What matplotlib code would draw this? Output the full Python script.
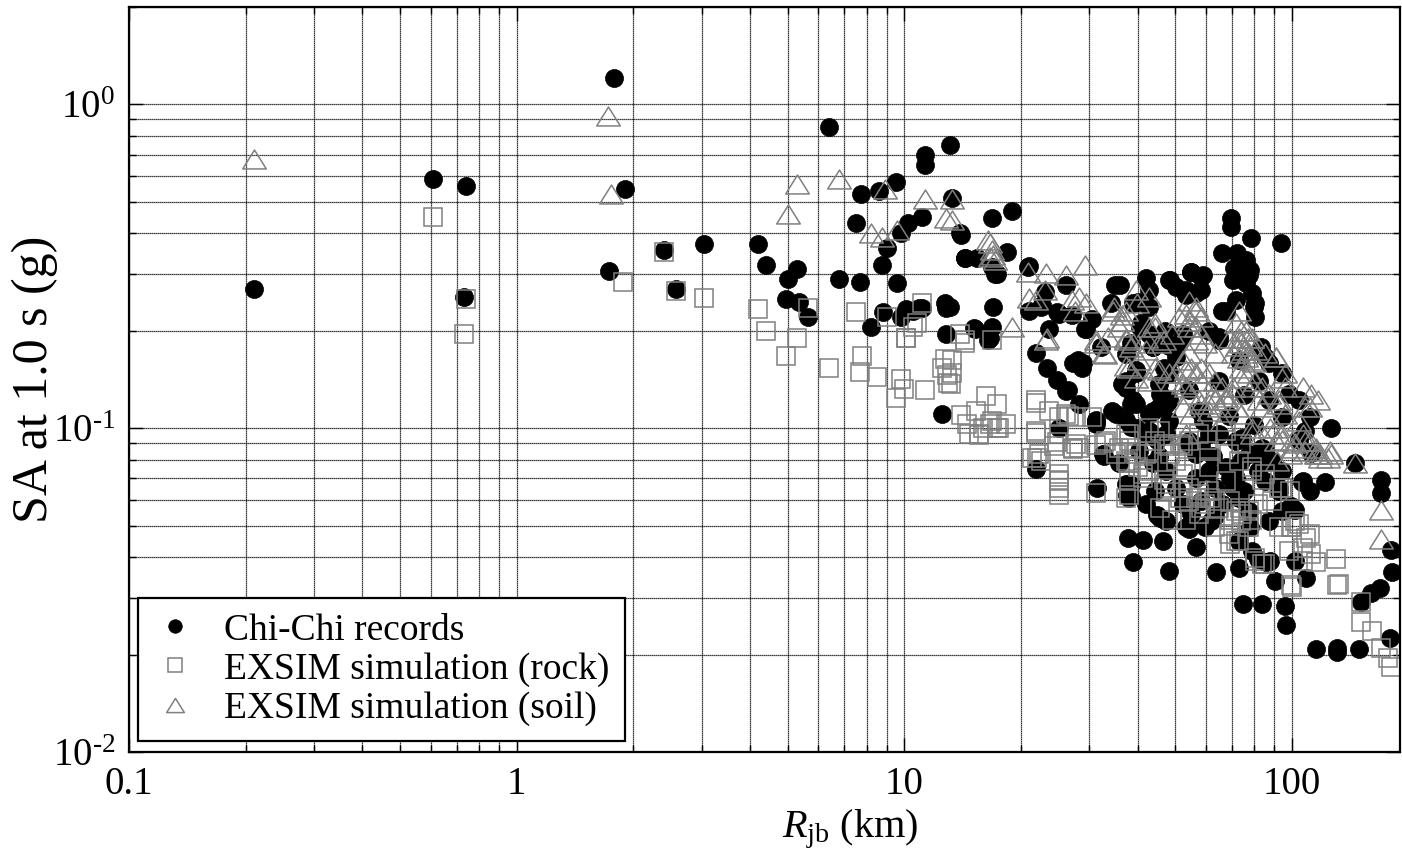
import matplotlib

matplotlib.use("Agg")
import matplotlib.pyplot as plt
from matplotlib.path import Path
from matplotlib.ticker import FixedLocator, FixedFormatter, LogLocator, NullFormatter

# Chi-Chi records (Rjb km, SA g)
chichi_r = [
    0.21, 0.61, 0.74, 0.73, 1.78, 1.9, 1.73, 2.4, 2.58, 3.05, 4.2, 4.4, 5.3, 5.0, 4.95, 5.35, 5.65,
    6.4, 7.75, 8.6, 9.5, 11.3, 11.3, 13.1, 13.3, 16.8, 7.5, 10.2, 11.1, 9.8, 14.0, 9.0, 8.75, 14.3,
    6.8, 7.7, 9.6, 8.8, 8.2, 10.1, 10.9, 9.8, 12.7, 12.8, 12.8, 15.2, 16.9, 16.6, 12.5,
    19.0, 18.4, 17.3, 21.0, 35.0, 23.0, 26.2, 25.0, 27.0, 30.5, 29.4, 21.0, 22.5, 23.6, 34.2, 39.0,
    10.5, 11.1, 16.4, 16.8, 17.1, 15.4, 13.9, 13.1, 15.1,
    25.0, 28.3, 31.2, 34.3, 37.3, 38.5, 37.3, 39.6, 28.0, 28.8, 27.2, 21.8, 23.3, 24.7, 26.2, 32.2, 37.3,
    69.7, 69.7, 78.3, 93.7, 66.0, 72.2, 76.1, 71.0, 77.6, 75.2, 42.0, 48.5, 50.3, 55.0, 59.0, 58.3,
    53.3, 36.0, 71.7, 67.5, 80.4, 80.4, 40.0, 42.9, 40.6, 38.5, 37.3, 43.7, 47.4, 64.8, 83.2, 85.0,
    39.6, 38.5, 42.0, 43.7, 45.7, 48.2, 47.4,
    126, 145, 170, 170,
    180, 181, 169, 160, 151, 179, 115, 131, 131, 149, 109, 102, 95.9, 96.8, 83.6, 74.7, 90.2, 72.8,
    63.6, 48.2, 38.8, 37.7, 41.3, 46.4, 56.4, 54.2, 106, 122, 111, 102, 45.7, 44.9, 38.5, 37.3, 54.2,
    56.5, 43.4, 44.9, 69.2, 70.5, 78.7, 81.6, 72.8, 53.3, 63.3, 59.5, 80.4, 81.6, 88.8, 104, 112,
    74.3, 65.0, 108, 85.8, 99.5, 92.8,
    21.8, 31.4, 31.2, 32.8, 35.7, 38.5, 37.5,
    14.3, 16.8, 20.8, 22.6, 24.8, 29.3, 26.4, 28.9, 42.8, 48.2, 53.3, 55.0, 58.3, 56.4, 74.0, 78.0,
    70.3, 76.1, 79.0, 80.0, 66.0, 36.4, 39.6, 38.8, 40.8, 42.8, 43.7, 46.7, 50.3, 51.2, 52.3, 61.1,
    64.9, 87.3, 94.4, 98.3, 104, 94.4, 111, 42.8, 45.4, 35.2, 31.2, 32.5, 39.6, 42.8, 47.4, 54.3,
    58.3, 61.1, 71.7, 77.5, 85.0, 107,
    38.0, 38.0, 43.7, 47.4, 47.4, 88.0, 78.0, 87.3, 94.4, 52.3, 55.0, 61.8, 58.3, 66.0, 73.0, 77.5,
    50.3, 56.4, 61.1, 67.5, 74.0, 83.6, 87.3, 94.4, 92.6, 71.7, 63.3, 44.4, 42.0,
    48.2, 57.6, 68.8, 80.0, 75.0, 85.0, 62.5, 45.4, 40.3, 48.2, 54.3, 59.0, 45.4, 64.9, 75.0, 82.0,
    73.0, 87.0, 47.0, 48.2,
]
chichi_sa = [
    0.27, 0.59, 0.56, 0.255, 1.21, 0.55, 0.305, 0.355, 0.269, 0.37, 0.37, 0.32, 0.31, 0.29, 0.25, 0.245, 0.22,
    0.85, 0.53, 0.54, 0.575, 0.70, 0.65, 0.75, 0.515, 0.445, 0.43, 0.43, 0.45, 0.40, 0.395, 0.36, 0.32, 0.335,
    0.29, 0.283, 0.28, 0.228, 0.206, 0.233, 0.235, 0.22, 0.243, 0.235, 0.196, 0.203, 0.237, 0.19, 0.111,
    0.47, 0.35, 0.30, 0.317, 0.278, 0.263, 0.277, 0.226, 0.224, 0.218, 0.203, 0.231, 0.237, 0.203, 0.243, 0.243,
    0.231, 0.235, 0.187, 0.315, 0.30, 0.336, 0.40, 0.237, 0.204,
    0.10, 0.119, 0.106, 0.113, 0.106, 0.119, 0.133, 0.148, 0.162, 0.154, 0.159, 0.171, 0.154, 0.141, 0.13, 0.178, 0.14,
    0.446, 0.419, 0.387, 0.373, 0.348, 0.348, 0.331, 0.313, 0.297, 0.287, 0.291, 0.287, 0.273, 0.304, 0.297, 0.267,
    0.258, 0.277, 0.249, 0.231, 0.243, 0.22, 0.245, 0.237, 0.205, 0.183, 0.17, 0.178, 0.183, 0.191, 0.178, 0.166,
    0.119, 0.101, 0.097, 0.113, 0.128, 0.148, 0.119,
    0.10, 0.078, 0.069, 0.063,
    0.042, 0.036, 0.032, 0.031, 0.029, 0.0225, 0.0208, 0.021, 0.0203, 0.0208, 0.0345, 0.039, 0.0283, 0.0247, 0.0286, 0.0286, 0.0337, 0.037,
    0.036, 0.0363, 0.0385, 0.0458, 0.0452, 0.0449, 0.043, 0.049, 0.068, 0.068, 0.064, 0.056, 0.053, 0.054, 0.0617, 0.0672, 0.0895,
    0.083, 0.097, 0.092, 0.07, 0.0655, 0.0418, 0.0395, 0.045, 0.0494, 0.0537, 0.0494, 0.083, 0.074, 0.079, 0.092, 0.084,
    0.0935, 0.096, 0.098, 0.0385, 0.0576, 0.064,
    0.075, 0.0655, 0.103, 0.082, 0.078, 0.067, 0.062,
    0.336, 0.205, 0.315, 0.24, 0.228, 0.203, 0.131, 0.159, 0.267, 0.287, 0.267, 0.304, 0.293, 0.261, 0.326, 0.308,
    0.287, 0.28, 0.261, 0.237, 0.231, 0.137, 0.151, 0.122, 0.211, 0.196, 0.178, 0.154, 0.166, 0.183, 0.196, 0.20,
    0.187, 0.159, 0.148, 0.128, 0.122, 0.108, 0.108, 0.111, 0.116, 0.111, 0.1055, 0.083, 0.10, 0.098, 0.096, 0.0915,
    0.088, 0.096, 0.0915, 0.083, 0.085, 0.0687,
    0.0675, 0.061, 0.078, 0.0738, 0.0517, 0.039, 0.0494, 0.0517, 0.0557, 0.0584, 0.0545, 0.0517, 0.0596, 0.0584, 0.061, 0.0555,
    0.0655, 0.0703, 0.0738, 0.076, 0.0793, 0.087, 0.0793, 0.0738, 0.0655, 0.07, 0.0655, 0.064, 0.0584,
    0.1055, 0.113, 0.109, 0.102, 0.064, 0.0687, 0.082, 0.082, 0.085, 0.122, 0.131, 0.1055, 0.137, 0.14, 0.127, 0.14,
    0.162, 0.122, 0.20, 0.18,
]

# EXSIM simulation, rock sites
rock_r = [
    0.61, 0.74, 0.73, 2.4, 1.88, 2.58, 3.05, 5.65, 4.2, 4.4, 5.3, 4.95, 6.4,
    7.5, 9.0, 11.1, 10.8, 10.1, 14.3, 12.7, 12.5, 12.9, 13.0, 7.8, 7.7, 8.5, 9.8, 10.0, 11.3, 9.5,
    16.2, 15.3, 14.0, 15.6, 16.6, 10.1, 10.5,
    17.3, 18.3, 21.8, 23.6, 26.6, 21.8, 25.0, 27.2, 24.7, 22.3, 31.2, 35.7,
    14.3, 16.8, 13.3, 13.3, 13.2, 13.9,
    16.0, 16.8, 15.6, 21.8, 26.2, 27.8, 25.1, 27.8, 21.4, 25.1, 25.1, 30.5, 33.2, 35.2, 38.0, 39.6,
    42.8, 46.7, 52.3, 57.6, 61.1, 67.5, 73.0, 85.0, 92.6, 41.3, 47.4, 52.3,
    21.8, 24.3, 22.5, 25.0, 25.0, 27.2, 28.3, 31.2, 32.8, 37.3, 14.5, 17.3,
    17.6, 14.7, 22.0, 25.1, 38.0, 37.3, 38.0, 38.0, 41.3, 42.8, 44.4, 48.2, 47.4, 50.3, 52.3, 54.3,
    56.4, 58.3, 61.1, 63.3, 67.5, 71.7, 74.0, 77.5, 68.8, 73.0, 80.4, 83.6, 94.4, 100, 102, 111,
    98.3, 107, 115, 130, 132, 100, 54.3, 61.1, 68.8, 74.0, 79.0,
    37.3, 38.5, 42.0, 37.7, 40.1, 42.9, 46.7, 48.5, 51.5, 54.2, 57.5, 59.5, 61.6, 65.0, 69.2, 73.4,
    77.6, 81.6, 45.7, 48.9, 53.3, 57.5, 63.3, 69.2, 74.3, 78.7, 69.2, 71.7, 80.4, 85.0, 92.8, 99.6,
    109, 112, 99.6, 94.4, 151, 151, 161, 170, 180, 177, 78.7, 60.5, 51.5, 45.7, 48.5, 53.3,
    83.6, 88.8, 104, 98.6, 107, 131,
]
rock_sa = [
    0.45, 0.25, 0.195, 0.35, 0.283, 0.265, 0.252, 0.235, 0.233, 0.20, 0.19, 0.167, 0.154,
    0.228, 0.22, 0.243, 0.211, 0.19, 0.184, 0.164, 0.154, 0.146, 0.138, 0.167, 0.149, 0.144, 0.142, 0.132, 0.131, 0.124,
    0.126, 0.113, 0.11, 0.095, 0.103, 0.19, 0.205,
    0.119, 0.103, 0.12, 0.113, 0.109, 0.098, 0.108, 0.087, 0.091, 0.083, 0.089, 0.087,
    0.187, 0.187, 0.162, 0.148, 0.137, 0.196,
    0.10, 0.1055, 0.096, 0.122, 0.111, 0.108, 0.096, 0.0895, 0.081, 0.072, 0.0655, 0.108, 0.0915, 0.083, 0.096, 0.083,
    0.10, 0.0895, 0.088, 0.096, 0.076, 0.098, 0.0793, 0.072, 0.0655, 0.072, 0.0675, 0.0655,
    0.097, 0.088, 0.079, 0.069, 0.062, 0.086, 0.087, 0.063, 0.09, 0.061, 0.103, 0.10,
    0.10, 0.096, 0.081, 0.0687, 0.0915, 0.0793, 0.0687, 0.062, 0.07, 0.0852, 0.0915, 0.088, 0.0634, 0.0793, 0.072, 0.0655,
    0.061, 0.0569, 0.064, 0.0596, 0.0687, 0.0555, 0.0517, 0.0494, 0.047, 0.0448, 0.0397, 0.038, 0.0655, 0.0494, 0.0517, 0.047,
    0.0417, 0.0427, 0.0385, 0.0394, 0.033, 0.0323, 0.0915, 0.0852, 0.083, 0.0895, 0.076,
    0.096, 0.087, 0.083, 0.078, 0.076, 0.074, 0.069, 0.0655, 0.061, 0.0597, 0.0627, 0.0584, 0.061, 0.0569, 0.0597, 0.0569,
    0.0557, 0.0584, 0.0569, 0.052, 0.052, 0.0545, 0.0494, 0.052, 0.0545, 0.052, 0.0438, 0.045, 0.039, 0.038, 0.0494, 0.0494,
    0.0458, 0.041, 0.0329, 0.0655, 0.029, 0.0253, 0.0237, 0.021, 0.0183, 0.0195, 0.074, 0.092, 0.0895, 0.098, 0.083, 0.076,
    0.069, 0.0597, 0.0507, 0.064, 0.039, 0.0329,
]

# EXSIM simulation, soil sites
soil_r = [
    0.21, 1.72, 1.75, 5.3, 5.0, 6.8, 8.9, 11.3, 13.3, 12.8, 8.2, 8.75, 9.6, 13.3,
    16.6, 16.9, 17.1, 20.8, 23.2, 26.2, 29.3, 23.0, 21.8, 21.0, 27.0, 28.3, 29.5, 27.6, 34.8, 37.3,
    39.8, 19.0, 23.2, 33.0, 31.2, 33.6, 38.5, 37.3, 16.4, 16.8, 16.6, 23.3,
    31.2, 32.8, 34.6, 36.4, 35.8, 37.3, 38.8, 42.0, 42.8, 44.4, 45.4, 42.8, 39.6, 39.6, 42.8, 44.4,
    48.2, 50.3, 52.3, 54.3, 52.3, 55.0, 58.3, 61.1, 63.3, 67.5, 71.7, 74.0, 54.3, 56.4, 54.3, 56.4,
    58.3, 59.6, 63.3, 52.3, 53.3, 56.4, 58.3, 61.1, 63.3, 66.0, 70.3, 73.0, 71.7, 73.0, 74.0, 77.5,
    79.0, 74.0, 77.5, 80.4, 83.6, 87.3, 92.6, 91.0, 94.4, 96.0, 83.6, 87.3, 91.0, 94.4, 100, 107,
    111, 115, 118, 107, 112, 111, 104, 125,
    76.1, 79.0, 70.3, 76.1, 80.4, 85.0, 91.0, 96.0, 117, 108, 96.0, 92.6, 82.2, 79.0, 74.0, 70.3,
    67.5, 64.9, 62.5, 58.3, 55.0, 54.3, 56.4, 54.3, 53.3, 56.4, 58.3, 51.2, 49.0, 46.7, 44.4, 42.0,
    40.3, 38.0, 37.3, 36.4, 45.4, 49.0, 53.3, 57.6, 53.3, 61.1, 66.0, 79.0, 83.6, 91.0, 100, 108,
    115, 118, 126,
    145, 170, 170, 78.7, 87.7, 94.4, 102, 108, 116, 124, 98.6, 91.3,
    72.0, 75.0, 78.0, 73.0, 77.0, 74.0, 80.0, 69.0,
]
soil_sa = [
    0.68, 0.92, 0.53, 0.57, 0.46, 0.59, 0.55, 0.51, 0.51, 0.445, 0.40, 0.39, 0.41, 0.44,
    0.373, 0.343, 0.33, 0.304, 0.302, 0.297, 0.319, 0.267, 0.249, 0.252, 0.249, 0.254, 0.243, 0.231, 0.237, 0.231,
    0.243, 0.205, 0.187, 0.17, 0.183, 0.191, 0.178, 0.156, 0.381, 0.355, 0.338, 0.19,
    0.187, 0.171, 0.231, 0.224, 0.205, 0.19, 0.183, 0.19, 0.205, 0.211, 0.183, 0.254, 0.267, 0.143, 0.14, 0.154,
    0.148, 0.148, 0.137, 0.128, 0.116, 0.111, 0.119, 0.119, 0.122, 0.125, 0.116, 0.111, 0.248, 0.231, 0.215, 0.205,
    0.196, 0.183, 0.171, 0.162, 0.151, 0.148, 0.154, 0.148, 0.14, 0.134, 0.128, 0.231, 0.211, 0.19, 0.183, 0.171,
    0.162, 0.154, 0.148, 0.14, 0.134, 0.128, 0.122, 0.166, 0.143, 0.134, 0.116, 0.108, 0.10, 0.096, 0.0915, 0.096,
    0.0915, 0.087, 0.083, 0.134, 0.128, 0.116, 0.1055, 0.085,
    0.20, 0.19, 0.171, 0.166, 0.174, 0.171, 0.166, 0.148, 0.122, 0.116, 0.111, 0.119, 0.122, 0.134, 0.143, 0.134,
    0.122, 0.116, 0.128, 0.14, 0.154, 0.171, 0.187, 0.205, 0.226, 0.237, 0.22, 0.22, 0.196, 0.187, 0.205, 0.174,
    0.162, 0.154, 0.187, 0.215, 0.151, 0.14, 0.134, 0.122, 0.096, 0.113, 0.1055, 0.10, 0.096, 0.0915, 0.087, 0.0915,
    0.083, 0.081, 0.083,
    0.078, 0.056, 0.0455, 0.096, 0.10, 0.092, 0.09, 0.085, 0.083, 0.081, 0.083, 0.0795,
    0.18, 0.175, 0.18, 0.165, 0.19, 0.20, 0.16, 0.19,
]

x_ticks = [0.1, 1, 10, 100]
x_tick_labels = ["0.1", "1", "10", "100"]
y_ticks = [0.01, 0.1, 1]
y_tick_labels = [r"$10^{\text{-}2}$", r"$10^{\text{-}1}$", r"$10^{0}$"]

plt.rcParams["font.family"] = ["Liberation Serif", "DejaVu Serif"]
plt.rcParams["mathtext.fontset"] = "custom"
plt.rcParams["mathtext.rm"] = "Liberation Serif"
plt.rcParams["mathtext.it"] = "Liberation Serif:italic"

gray = "#808080"
# open triangle, a bit wider than tall
tri = Path([(-1.0, -0.8), (1.0, -0.8), (0.0, 0.8), (-1.0, -0.8)],
           [Path.MOVETO, Path.LINETO, Path.LINETO, Path.CLOSEPOLY])

fig = plt.figure(figsize=(14.02, 8.58), dpi=100)
ax = fig.add_axes([0.092, 0.1235, 0.9066, 0.8683])

ax.plot(chichi_r, chichi_sa, "o", ms=13, mfc="k", mec="k", mew=0.5, ls="none",
        label="Chi-Chi records")
ax.plot(rock_r, rock_sa, "s", ms=13.5, mfc="none", mec=gray, mew=1.1, ls="none",
        label="EXSIM simulation (rock)")
ax.plot(soil_r, soil_sa, marker=tri, ms=17, mfc="none", mec=gray, mew=1.1, ls="none",
        label="EXSIM simulation (soil)")

ax.set_xscale("log")
ax.set_yscale("log")
ax.set_xlim(0.1, 190)
ax.set_ylim(0.01, 2.0)

ax.xaxis.set_major_locator(FixedLocator(x_ticks))
ax.xaxis.set_major_formatter(FixedFormatter(x_tick_labels))
ax.xaxis.set_minor_locator(LogLocator(base=10, subs=range(2, 10)))
ax.xaxis.set_minor_formatter(NullFormatter())
ax.yaxis.set_major_locator(FixedLocator(y_ticks))
ax.yaxis.set_major_formatter(FixedFormatter(y_tick_labels))
ax.yaxis.set_minor_locator(LogLocator(base=10, subs=range(2, 10)))
ax.yaxis.set_minor_formatter(NullFormatter())

ax.grid(True, which="both", color="k", linestyle=(0, (1, 0.6)), linewidth=0.9)
ax.set_axisbelow(True)
ax.tick_params(which="both", direction="in", top=True, right=True, labelsize=28, width=1.0)
ax.tick_params(which="major", length=10, pad=10)
ax.tick_params(which="minor", length=5)
for s in ax.spines.values():
    s.set_linewidth(1.6)

ax.set_xlabel(r"$R_{\rm jb}$ (km)", fontsize=29)
ax.xaxis.set_label_coords(0.567, -0.075)
ax.set_ylabel("SA at 1.0 s (g)", fontsize=36)
ax.yaxis.set_label_coords(-0.056, 0.5)

leg = ax.legend(loc="lower left", bbox_to_anchor=(0.007, 0.015), fontsize=27, frameon=True,
                fancybox=False, framealpha=1, edgecolor="k", markerscale=0.75,
                handlelength=1.2, handletextpad=0.7, borderpad=0.4, labelspacing=0.12,
                borderaxespad=0.0)
leg.get_frame().set_linewidth(1.6)

fig.savefig("out.png", dpi=100)
